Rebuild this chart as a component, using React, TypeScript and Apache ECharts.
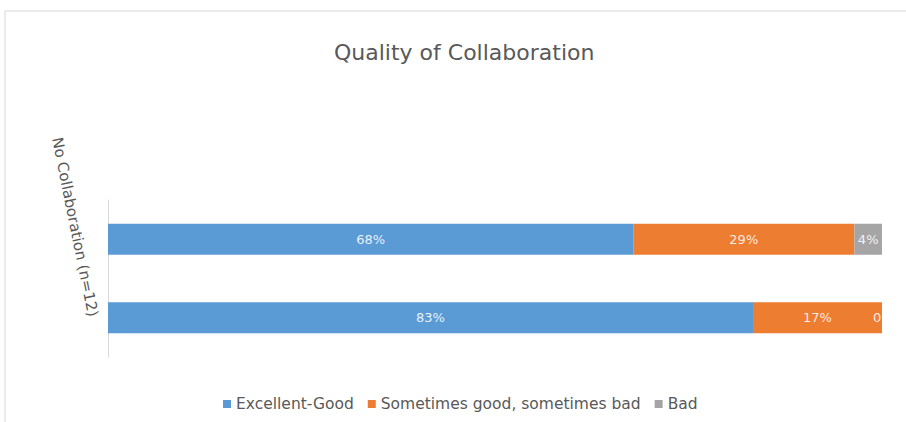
import React, { useEffect, useRef } from "react";
import * as echarts from "echarts";

const categories = ["Bottom", "Top"];
const seriesNames = ["Excellent-Good", "Sometimes good, sometimes bad", "Bad"];
const excellentGood = [83.33, 67.86];
const sometimes = [16.67, 28.57];
const bad = [0, 3.57];
const colors = ["#5B9BD5", "#ED7D31", "#A5A5A5"];
const titleText = "Quality of Collaboration";
const axisLabelText = "No Collaboration (n=12)";

const FONT = "DejaVu Sans";

export default function App() {
  const ref = useRef<HTMLDivElement>(null);
  useEffect(() => {
    if (!ref.current) return;
    const chart = echarts.init(ref.current, null, { renderer: "svg" });
    const fmt = (p: any) => Math.round(p.value) + "%";
    const baseLabel = {
      show: true,
      position: "inside",
      color: "rgba(255,255,255,0.88)",
      fontSize: 13,
      fontFamily: FONT,
      formatter: fmt,
    };
    const mk = (name: string, data: number[], i: number) => ({
      name,
      type: "bar",
      stack: "s",
      barWidth: 31,
      itemStyle: { color: colors[i] },
      label: baseLabel,
      data: data.map((v) =>
        v === 0
          ? {
              value: v,
              label: {
                ...baseLabel,
                position: [-9, 15.5],
                align: "left",
                verticalAlign: "middle",
              },
            }
          : v
      ),
    });
    chart.setOption({
      animation: false,
      title: {
        text: titleText,
        left: 329,
        top: 36,
        textStyle: {
          fontFamily: FONT,
          fontSize: 22,
          fontWeight: "normal",
          color: "#595959",
        },
      },
      legend: {
        bottom: 5,
        left: 218,
        itemWidth: 8,
        itemHeight: 8,
        itemGap: 14,
        icon: "rect",
        textStyle: { fontFamily: FONT, fontSize: 15.5, color: "#595959" },
        data: seriesNames,
      },
      grid: { left: 108, right: 24, top: 200, bottom: 65, containLabel: false },
      xAxis: {
        type: "value",
        min: 0,
        max: 100,
        show: false,
      },
      yAxis: {
        type: "category",
        data: categories,
        axisLine: { show: true, lineStyle: { color: "#d9d9d9", width: 1 } },
        axisTick: { show: false },
        axisLabel: { show: false },
      },
      graphic: [
        {
          type: "rect",
          shape: { x: 5, y: 11, width: 1000, height: 1000 },
          style: { fill: "none", stroke: "#d9d9d9", lineWidth: 1 },
          silent: true,
          z: 0,
        },
        {
          type: "rect",
          shape: { x: 882, y: 298, width: 24, height: 40 },
          style: { fill: "#ffffff" },
          silent: true,
          z: 100,
          zlevel: 1,
        },
        {
          type: "text",
          x: 75,
          y: 227,
          rotation: (-78.5 * Math.PI) / 180,
          style: {
            text: axisLabelText,
            fontFamily: FONT,
            fontSize: 15,
            fill: "#595959",
            textAlign: "center",
            textVerticalAlign: "middle",
          },
        },
      ],
      series: [
        mk(seriesNames[0], excellentGood, 0),
        mk(seriesNames[1], sometimes, 1),
        mk(seriesNames[2], bad, 2),
      ],
    });
    return () => chart.dispose();
  }, []);
  return (
    <div
      ref={ref}
      style={{ position: "fixed", left: 0, top: 0, width: 906, height: 422, background: "#fff" }}
    />
  );
}
